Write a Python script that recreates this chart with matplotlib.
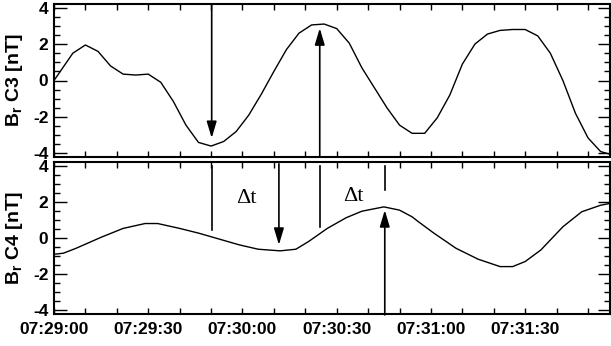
import matplotlib
matplotlib.use('Agg')
import matplotlib.pyplot as plt
from matplotlib.ticker import MultipleLocator, FixedLocator, NullFormatter

plt.rcParams['font.family'] = 'Liberation Sans'
plt.rcParams['font.weight'] = 'bold'
plt.rcParams['axes.unicode_minus'] = False
plt.rcParams['mathtext.fontset'] = 'custom'
plt.rcParams['mathtext.rm'] = 'Liberation Sans:bold'
plt.rcParams['mathtext.default'] = 'rm'

# times in seconds after 07:29:00
t_c3 = [0, 6, 10, 14, 18, 22, 26, 30, 34, 38, 42, 46, 50, 54, 58, 62, 66, 70,
        74, 78, 82, 86, 90, 94, 98, 102, 106, 110, 114, 118, 122, 126, 130,
        134, 138, 142, 146, 150, 154, 158, 162, 166, 170, 174, 177]
br_c3 = [0.0, 1.5, 1.95, 1.6, 0.8, 0.35, 0.3, 0.35, -0.1, -1.15, -2.45, -3.4,
         -3.6, -3.35, -2.8, -1.9, -0.75, 0.5, 1.7, 2.6, 3.05, 3.1, 2.85, 2.05,
         0.7, -0.4, -1.5, -2.45, -2.9, -2.9, -2.05, -0.8, 0.9, 2.0, 2.55, 2.75,
         2.8, 2.8, 2.45, 1.5, 0.0, -1.8, -3.15, -3.9, -4.05]

t_c4 = [0, 3, 7, 15, 22, 29, 33, 40, 46, 53, 59, 65, 72, 77, 81, 87, 93, 98,
        105, 110, 114, 116, 121, 128, 135, 142, 146, 150, 155, 162, 168, 174, 177]
br_c4 = [-0.9, -0.84, -0.57, 0.04, 0.53, 0.8, 0.8, 0.53, 0.27, -0.08, -0.38,
         -0.62, -0.71, -0.62, -0.2, 0.53, 1.12, 1.48, 1.72, 1.54, 1.17, 0.9,
         0.26, -0.57, -1.17, -1.58, -1.58, -1.3, -0.66, 0.62, 1.45, 1.81, 1.91]

time_labels = ['07:29:00', '07:29:30', '07:30:00', '07:30:30', '07:31:00', '07:31:30']
ylabels = ['B$_r$ C3 [nT]', 'B$_r$ C4 [nT]']

# marked extrema: (time, tip value)
c3_min = (50.2, -3.16)
c3_max = (84.6, 2.87)
c4_min = (71.6, -0.38)
c4_max = (105.3, 1.54)
# reference lines in the C4 panel: (time, lower end)
ref_lines = [(50.2, 0.44), (84.6, 0.62), (105.3, 2.64)]
dt_text = [(61.3, 2.18), (95.2, 2.27)]


def to_sec(s):
    h, m, sec = map(int, s.split(':'))
    return h * 3600 + m * 60 + sec - (7 * 3600 + 29 * 60)


def arrow(ax, x, y0, y1):
    ax.annotate('', xy=(x, y1), xytext=(x, y0),
                arrowprops=dict(arrowstyle='-|>,head_length=1.0,head_width=0.3',
                                color='k', lw=1.2, mutation_scale=10,
                                shrinkA=0, shrinkB=0))


def style(ax, ylabel):
    ax.set_xlim(0, 177)
    ax.set_ylim(-4.2, 4.2)
    ax.xaxis.set_major_locator(FixedLocator([to_sec(s) for s in time_labels]))
    ax.xaxis.set_minor_locator(MultipleLocator(10))
    ax.yaxis.set_major_locator(MultipleLocator(2))
    ax.yaxis.set_minor_locator(MultipleLocator(0.5))
    ax.tick_params(which='both', direction='in', top=True, right=True, width=1,
                   labelsize=12.5)
    ax.tick_params(axis='x', which='both', length=4, pad=6)
    ax.tick_params(axis='y', which='major', length=9, pad=4)
    ax.tick_params(axis='y', which='minor', length=4.5)
    for sp in ax.spines.values():
        sp.set_linewidth(1.5)
    ax.set_ylabel(ylabel, fontsize=14, fontweight='bold')
    ax.yaxis.set_label_coords(-0.052, 0.5)


fig = plt.figure(figsize=(6.11, 3.46), dpi=100)
ax1 = fig.add_axes([54 / 611, 1 - 157 / 346, 556 / 611, 153 / 346])
ax2 = fig.add_axes([54 / 611, 1 - 314 / 346, 556 / 611, 152 / 346])

ax1.plot(t_c3, br_c3, color='k', lw=1)
style(ax1, ylabels[0])
ax1.xaxis.set_major_formatter(NullFormatter())
arrow(ax1, c3_min[0], 4.2, c3_min[1])
arrow(ax1, c3_max[0], -4.2, c3_max[1])

ax2.plot(t_c4, br_c4, color='k', lw=1)
style(ax2, ylabels[1])
ax2.set_xticklabels(time_labels)
for x, y in ref_lines:
    ax2.plot([x, x], [4.0, y], color='k', lw=1.2)
arrow(ax2, c4_min[0], 4.1, c4_min[1])
arrow(ax2, c4_max[0], -4.25, c4_max[1])
for x, y in dt_text:
    ax2.text(x, y, '\u0394t', family='Liberation Serif', fontweight='normal',
             fontsize=16, ha='center', va='center')

fig.savefig('out.png', dpi=100)
